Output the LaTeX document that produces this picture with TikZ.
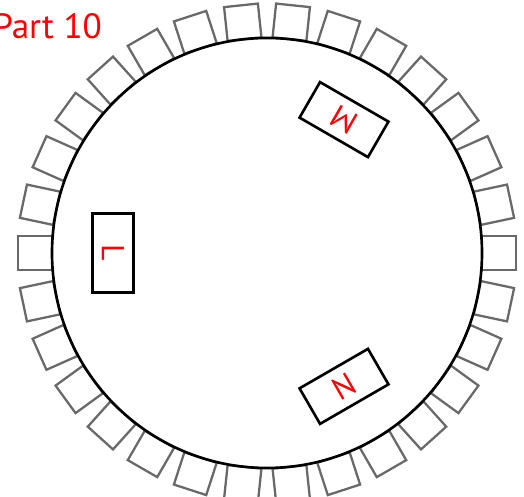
\documentclass[tikz,border=0pt]{standalone}
\usepackage{fontspec}
\setmainfont{PT Sans}
\usetikzlibrary{positioning}
\definecolor{slotgray}{RGB}{105,105,105}

\begin{document}
\begin{tikzpicture}[scale=1,
    slot/.style={draw=slotgray, line width=1.3pt, minimum width=0.68cm, minimum height=0.68cm, inner sep=0pt, outer sep=0pt},
    tag/.style={draw=black, line width=1.5pt, minimum width=1.58cm, minimum height=0.82cm, inner sep=0pt, text=red, font=\fontsize{18}{20}\selectfont}]
        \useasboundingbox (0,0) rectangle (10.48,9.94);
        % Define the centre of the wheel
        \coordinate (o) at (5.34,4.88);

        % Slots round the rim
        \foreach \i in {0,...,29}
        \node[slot, rotate=12*\i] (slot\i) at ([shift={(12*\i:4.64)}]o) {};

        % Draw the wheel
        \draw[line width=1.5pt] (o) circle (4.30);

        % Boxes inside the wheel
        \foreach \name/\ang in {M/60, L/180, N/300}
        \node[tag, rotate=\ang+90] (\name) at ([shift={(\ang:3.08)}]o) {\name};

        \node[anchor=base west, inner sep=0pt, text=red, font=\fontsize{20}{24}\selectfont] (title) at (-0.14,9.16) {Part 10};
      \end{tikzpicture}
\end{document}
